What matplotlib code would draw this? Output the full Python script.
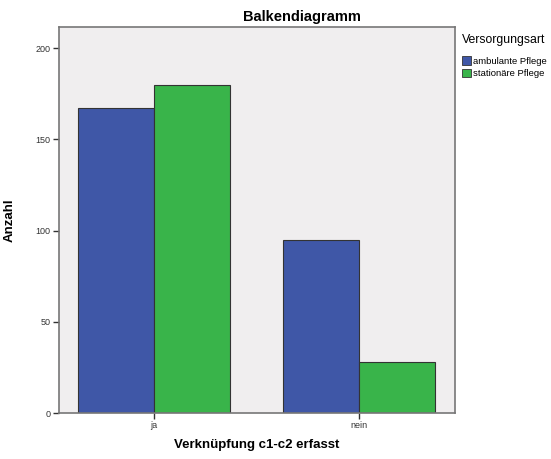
import matplotlib
matplotlib.use("Agg")
import matplotlib.pyplot as plt
import numpy as np
from matplotlib.patches import Patch

categories = ["ja", "nein"]
series_names = ["ambulante Pflege", "stationäre Pflege"]
ambulant = [167, 95]
stationaer = [180, 28]
colors = ["#3f57a7", "#39b44a"]

plt.rcParams["font.family"] = ["Liberation Sans", "DejaVu Sans"]

fig = plt.figure(figsize=(5.51, 4.59), dpi=100)
ax = fig.add_axes([0.107, 0.1002, 0.719, 0.8406])
ax.set_facecolor("#f0eeef")

x = np.arange(len(categories))
w = 0.37
ax.bar(x - w / 2, ambulant, w, color=colors[0], edgecolor="#333333", linewidth=0.8)
ax.bar(x + w / 2, stationaer, w, color=colors[1], edgecolor="#333333", linewidth=0.8)

ax.set_xlim(-0.463, 1.468)
ax.set_ylim(0, 211.5)
ax.set_xticks(x)
ax.set_xticklabels(categories)
ax.set_yticks([0, 50, 100, 150, 200])
ax.tick_params(axis="both", labelsize=6.5, colors="#333333", length=4, width=1, direction="out", pad=2)
for sp in ax.spines.values():
    sp.set_color("#777777")
    sp.set_linewidth(1.2)

ax.set_ylabel("Anzahl", fontsize=9.5, fontweight="bold")
ax.yaxis.set_label_coords(-0.108, 0.5)
ax.set_xlabel("Verknüpfung c1-c2 erfasst", fontsize=9.5, fontweight="bold", labelpad=6)
fig.text(0.548, 0.962, "Balkendiagramm", fontsize=10.5, fontweight="bold", ha="center", va="center")

handles = [Patch(facecolor=c, edgecolor="#333333", linewidth=0.6) for c in colors]
leg = fig.legend(handles, series_names, loc="upper left", bbox_to_anchor=(0.838, 0.925),
                 frameon=False, fontsize=6.8, title="Versorgungsart", title_fontsize=8.8,
                 handlelength=1.0, handleheight=1.0, handletextpad=0.2, labelspacing=0.35,
                 borderpad=0, borderaxespad=0)
leg._legend_box.align = "left"
leg._legend_box.sep = 7

fig.savefig("out.png", dpi=100)
